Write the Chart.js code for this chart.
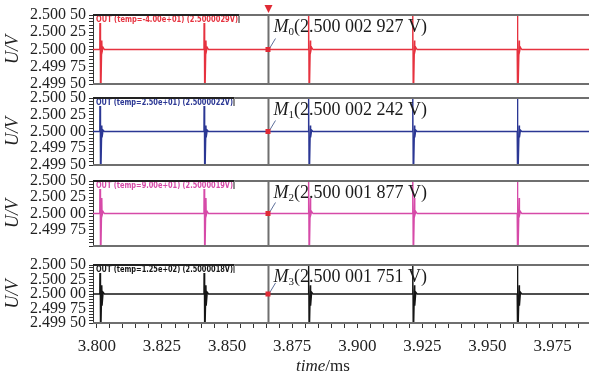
<!DOCTYPE html>
<html>
<head>
<meta charset="utf-8">
<script src="https://cdn.jsdelivr.net/npm/chart.js@4.4.0/dist/chart.umd.min.js"></script>
<style>
  html, body { margin: 0; padding: 0; background: #fff; }
  #wrap { position: relative; width: 589px; height: 378px; }
  #wrap canvas { position: absolute; left: 0; top: 0; }
</style>
</head>
<body>
<div id="wrap">
  <canvas id="p0" width="589" height="378"></canvas>
  <canvas id="p1" width="589" height="378"></canvas>
  <canvas id="p2" width="589" height="378"></canvas>
  <canvas id="p3" width="589" height="378"></canvas>
</div>
<script>
// time axis (ms)
const xMin = 3.7985;
const xMax = 3.989;
const xTickValues = [3.800, 3.825, 3.850, 3.875, 3.900, 3.925, 3.950, 3.975];
const xTickLabels = ['3.800', '3.825', '3.850', '3.875', '3.900', '3.925', '3.950', '3.975'];

// voltage axis (V)
const yMin = 2.4995;
const yMax = 2.5005;
const yTickValues = [2.4995, 2.49975, 2.5, 2.50025, 2.5005];
const yTickLabels = ['2.499 50', '2.499 75', '2.500 00', '2.500 25', '2.500 50'];

// switching edges seen in every trace
const spikeTimes = [3.8012, 3.8412, 3.8813, 3.9213, 3.9615];
const markerTime = 3.8659;
const baseline = 2.5;

// one pulse: time after the edge (ms) and the voltage
const pulseOffsets = [-0.0001, 0, 0.0002, 0.0007, 0.0008, 0.0012, 0.0017];
const pulseTemp40 = [2.5, 2.5009, 2.4991, 2.50013, 2.49996, 2.50003, 2.5];
const pulseTemp25 = [2.5, 2.5009, 2.4991, 2.50009, 2.49991, 2.50002, 2.5];
const pulseTemp90 = [2.5, 2.5009, 2.4991, 2.50024, 2.49997, 2.50003, 2.5];
const pulseTemp125 = [2.5, 2.5009, 2.4991, 2.50015, 2.4998, 2.50003, 2.5];

const panelLabels = [
  'OUT (temp=-4.00e+01) (2.5000029V)',
  'OUT (temp=2.50e+01) (2.5000022V)',
  'OUT (temp=9.00e+01) (2.5000019V)',
  'OUT (temp=1.25e+02) (2.5000018V)'
];
const markerValues = ['2.500 002 927 V', '2.500 002 242 V', '2.500 001 877 V', '2.500 001 751 V'];
const panelPulses = [pulseTemp40, pulseTemp25, pulseTemp90, pulseTemp125];

// styling / layout
const panelColors = ['#e6323f', '#2b3794', '#d64aa8', '#151515'];
const panelTops = [15, 98, 181, 265];
const panelBottoms = [84, 165, 246, 323];
const serif = "'Liberation Serif', 'DejaVu Serif', serif";

function buildTrace(pulse) {
  const pts = [{ x: xMin, y: baseline }];
  spikeTimes.forEach(t => {
    pulseOffsets.forEach((dt, i) => pts.push({ x: t + dt, y: pulse[i] }));
  });
  pts.push({ x: xMax, y: baseline });
  return pts;
}

// minor ticks every 0.00005 V and 0.005 ms, labels only on the major ones
function yMinorTicks() {
  const out = [];
  for (let i = 0; i <= 20; i++) out.push({ value: +(yMin + i * 0.00005).toFixed(5) });
  return out;
}
function xMinorTicks() {
  const out = [];
  for (let i = 0; i <= 37; i++) out.push({ value: +(3.800 + i * 0.005).toFixed(3) });
  return out;
}
function labelFor(v, values, labels) {
  const i = values.findIndex(tv => Math.abs(tv - v) < 1e-7);
  return i < 0 ? '' : labels[i];
}

const panelDecor = {
  id: 'panelDecor',
  beforeDatasetsDraw(chart, args, opts) {
    const { ctx, chartArea: a, scales } = chart;
    const mx = scales.x.getPixelForValue(markerTime);
    ctx.save();
    ctx.strokeStyle = '#6f6f6f';
    ctx.lineWidth = 2;
    ctx.beginPath();
    ctx.moveTo(mx, a.top);
    ctx.lineTo(mx, a.bottom);
    ctx.stroke();
    ctx.restore();
  },
  afterDatasetsDraw(chart, args, opts) {
    const { ctx, chartArea: a, scales } = chart;
    const idx = opts.index;
    const mx = scales.x.getPixelForValue(markerTime);
    const by = scales.y.getPixelForValue(baseline);
    ctx.save();
    // panel frame (top and bottom)
    ctx.strokeStyle = '#6f6f6f';
    ctx.lineWidth = 2;
    ctx.beginPath();
    ctx.moveTo(a.left, a.top); ctx.lineTo(a.right, a.top);
    ctx.moveTo(a.left, a.bottom); ctx.lineTo(a.right, a.bottom);
    ctx.stroke();

    // leader from marker point to its readout
    ctx.strokeStyle = '#5d6f9a';
    ctx.lineWidth = 1;
    ctx.beginPath();
    ctx.moveTo(mx + 1, by - 1);
    ctx.lineTo(mx + 7, by - 11);
    ctx.stroke();
    ctx.fillStyle = '#e02a35';
    ctx.fillRect(mx - 3, by - 2.5, 5, 5);

    // trace name box
    ctx.font = "bold 8px 'DejaVu Sans', sans-serif";
    const boxW = idx === 0 ? 146 : 141;
    ctx.fillStyle = '#fff';
    ctx.fillRect(a.left + 1, a.top, boxW, 8);
    ctx.fillStyle = panelColors[idx];
    ctx.textBaseline = 'top';
    ctx.textAlign = 'left';
    ctx.fillText(panelLabels[idx], a.left + 3, a.top + 1, boxW - 4);
    ctx.strokeStyle = '#222';
    ctx.lineWidth = 2;
    ctx.beginPath();
    ctx.moveTo(a.left, a.top);
    ctx.lineTo(a.left + boxW, a.top);
    ctx.stroke();
    ctx.lineWidth = 1;
    ctx.beginPath();
    ctx.moveTo(a.left + boxW, a.top);
    ctx.lineTo(a.left + boxW, a.top + 8);
    ctx.stroke();

    // marker readout  M_i(value)
    let tx = mx + 5;
    const ty = a.top + 17;
    ctx.fillStyle = '#1a1a1a';
    ctx.textBaseline = 'alphabetic';
    ctx.font = 'italic 18px ' + serif;
    ctx.fillText('M', tx, ty);
    tx += ctx.measureText('M').width;
    ctx.font = '11px ' + serif;
    ctx.fillText(String(idx), tx, ty + 3);
    tx += ctx.measureText(String(idx)).width;
    ctx.font = '18px ' + serif;
    ctx.fillText('(' + markerValues[idx] + ')', tx, ty, 150);

    // run marker triangle on the first panel
    if (idx === 0) {
      ctx.fillStyle = '#e02a35';
      ctx.beginPath();
      ctx.moveTo(mx - 4, a.top - 10);
      ctx.lineTo(mx + 4, a.top - 10);
      ctx.lineTo(mx, a.top - 2);
      ctx.closePath();
      ctx.fill();
    }

    // axis name on the bottom panel: time/ms
    if (idx === 3) {
      ctx.fillStyle = '#222';
      ctx.textBaseline = 'middle';
      ctx.font = 'italic 17px ' + serif;
      const w1 = ctx.measureText('time').width;
      ctx.font = '17px ' + serif;
      const w2 = ctx.measureText('/ms').width;
      const cx = 323, cy = 367;
      ctx.font = 'italic 17px ' + serif;
      ctx.fillText('time', cx - (w1 + w2) / 2, cy);
      ctx.font = '17px ' + serif;
      ctx.fillText('/ms', cx - (w1 + w2) / 2 + w1, cy);
    }
    ctx.restore();
  }
};

function createPanel(idx) {
  const last = idx === 3;
  const config = {
    type: 'line',
    data: {
      datasets: [{
        data: buildTrace(panelPulses[idx]),
        borderColor: panelColors[idx],
        borderWidth: 1.3,
        pointRadius: 0,
        tension: 0,
        fill: false
      }]
    },
    options: {
      responsive: false,
      animation: false,
      layout: {
        padding: {
          left: 0,
          right: 0,
          top: panelTops[idx],
          bottom: last ? 0 : 378 - panelBottoms[idx]
        }
      },
      scales: {
        x: {
          type: 'linear',
          min: xMin,
          max: xMax,
          display: last,
          afterBuildTicks: s => { s.ticks = xMinorTicks(); },
          afterFit: s => { if (last) s.height = 378 - panelBottoms[idx]; },
          ticks: {
            autoSkip: false,
            maxRotation: 0,
            padding: 8,
            color: '#222',
            font: { family: serif, size: 17 },
            callback: v => labelFor(v, xTickValues, xTickLabels)
          },
          grid: { drawOnChartArea: false, tickLength: 5, tickColor: '#333' },
          border: { display: false }
        },
        y: {
          min: yMin,
          max: yMax,
          afterBuildTicks: s => { s.ticks = yMinorTicks(); },
          afterFit: s => { s.width = 93; },
          ticks: {
            autoSkip: false,
            padding: 3,
            color: '#222',
            font: { family: serif, size: 16 },
            callback: v => {
              // the lowest label of the third panel is hidden in the source plot
              if (idx === 2 && Math.abs(v - yMin) < 1e-7) return '';
              return labelFor(v, yTickValues, yTickLabels);
            }
          },
          grid: { drawOnChartArea: false, tickLength: 4, tickColor: '#333' },
          border: { display: true, color: '#333', width: 1 },
          title: {
            display: true,
            text: 'U/V',
            color: '#222',
            padding: { top: 2, bottom: 2 },
            font: { family: serif, size: 18, style: 'italic' }
          }
        }
      },
      plugins: {
        legend: { display: false },
        tooltip: { enabled: false },
        panelDecor: { index: idx }
      }
    },
    plugins: [panelDecor]
  };
  const canvas = document.getElementById('p' + idx).getContext('2d');
  new Chart(canvas, config);
}

for (let i = 0; i < 4; i++) createPanel(i);
</script>
</body>
</html>
